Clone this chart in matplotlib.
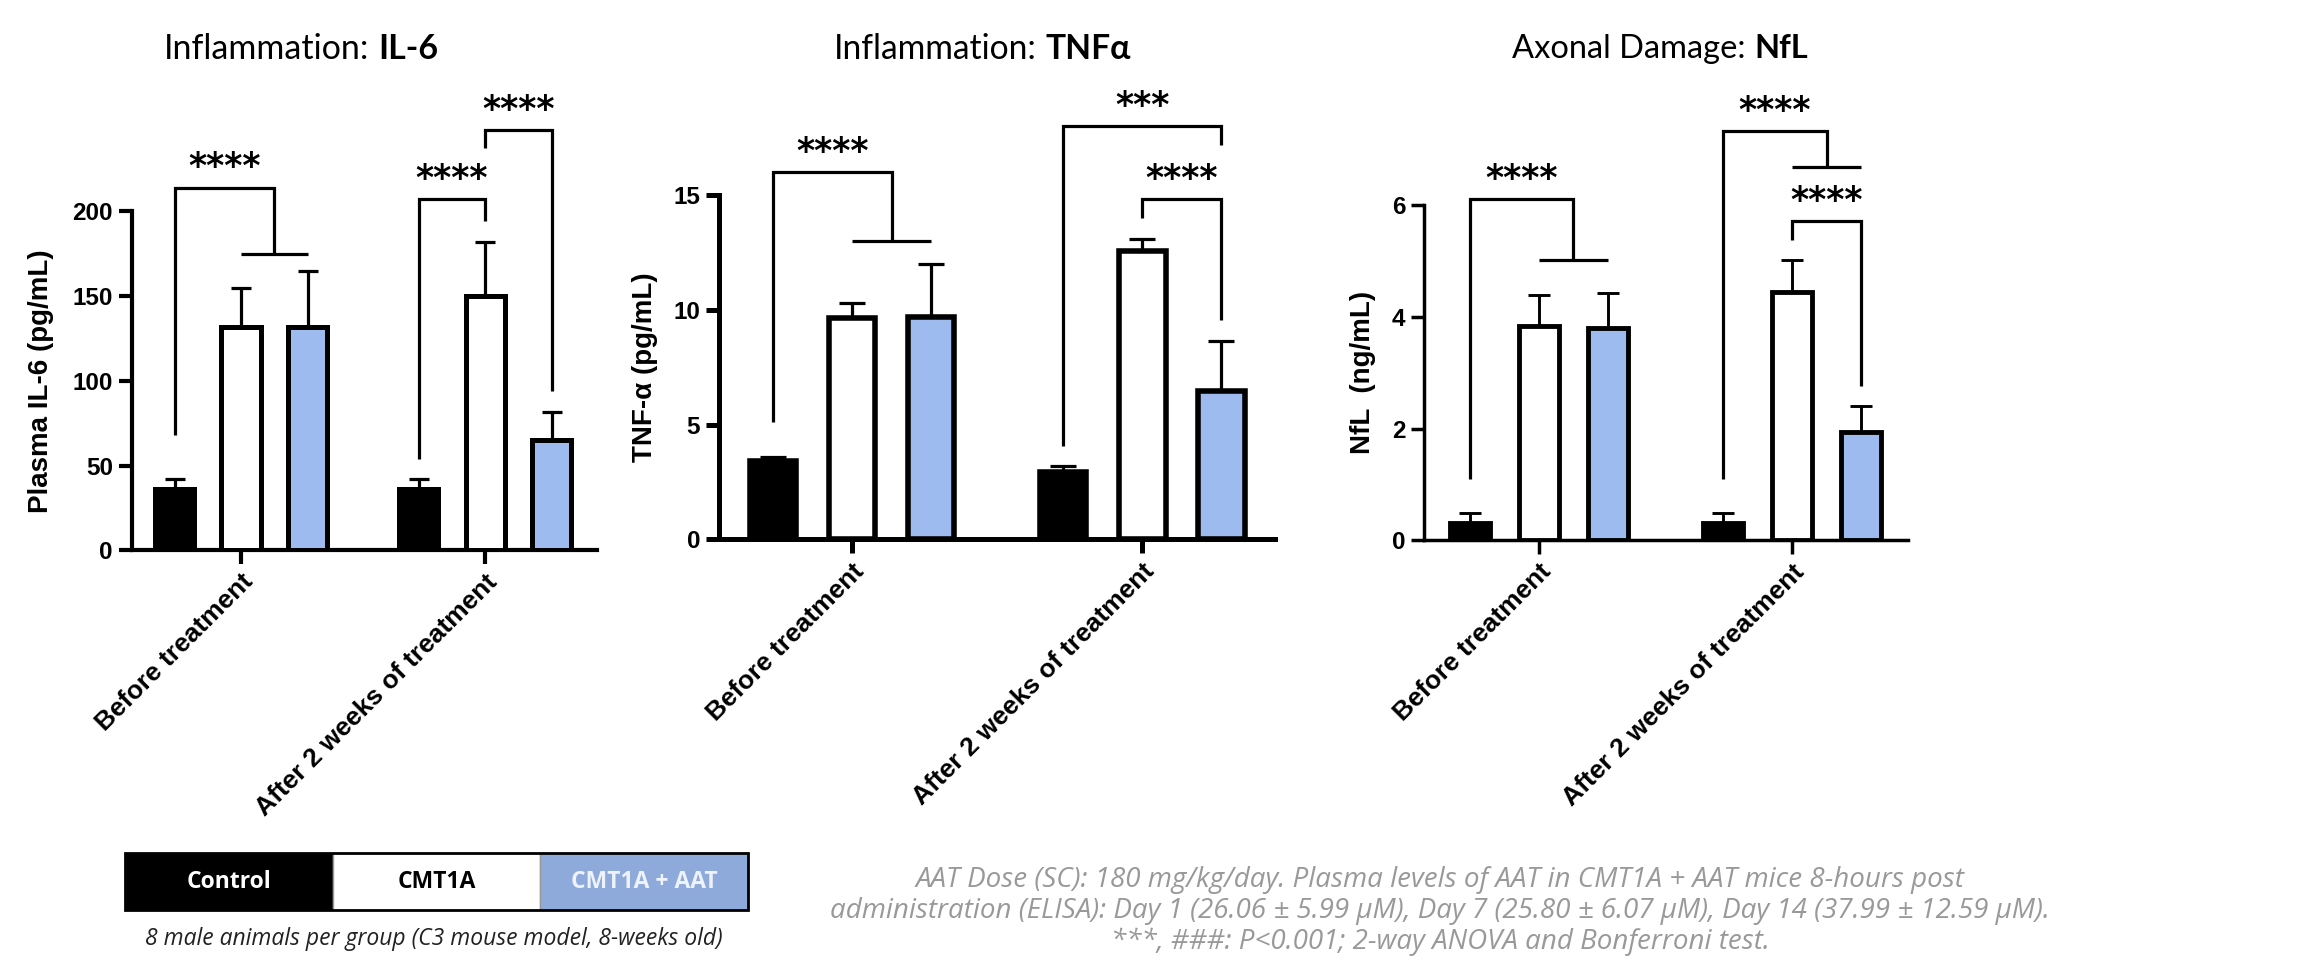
import matplotlib
matplotlib.use("Agg")
import matplotlib.pyplot as plt
from matplotlib.patches import Rectangle

W, H, DPI = 2302, 968, 100

# ---------------- data ----------------
groups = ["Before treatment", "After 2 weeks of treatment"]
series = ["Control", "CMT1A", "CMT1A + AAT"]
series_colors = ["#000000", "#ffffff", "#9dbbee"]

il6_control = [36, 36]
il6_control_sd = [6, 6]
il6_cmt = [132, 150]
il6_cmt_sd = [23, 32]
il6_aat = [132, 65]
il6_aat_sd = [33, 16.5]
il6_yticks = [0, 50, 100, 150, 200]

tnf_control = [3.40, 2.95]
tnf_control_sd = [0.18, 0.24]
tnf_cmt = [9.63, 12.58]
tnf_cmt_sd = [0.68, 0.49]
tnf_aat = [9.69, 6.45]
tnf_aat_sd = [2.31, 2.19]
tnf_yticks = [0, 5, 10, 15]

nfl_control = [0.30, 0.30]
nfl_control_sd = [0.19, 0.19]
nfl_cmt = [3.84, 4.44]
nfl_cmt_sd = [0.55, 0.58]
nfl_aat = [3.80, 1.94]
nfl_aat_sd = [0.63, 0.47]
nfl_yticks = [0, 2, 4, 6]

# brackets: (kind, group, left series, right series, left leg bottom, top, right leg bottom / T level, label)
il6_brackets = [
    ("T", 0, 0, (1, 2), 68, 214, 175, "****"),
    ("pair", 1, 0, 1, 54, 207, 194, "****"),
    ("pair", 1, 1, 2, 237.5, 248, 94, "****"),
]
tnf_brackets = [
    ("T", 0, 0, (1, 2), 5.12, 16.0, 13.0, "****"),
    ("pair", 1, 0, 2, 4.08, 18.0, 17.16, "***"),
    ("pair", 1, 1, 2, 13.98, 14.84, 9.54, "****"),
]
nfl_brackets = [
    ("T", 0, 0, (1, 2), 1.09, 6.11, 5.02, "****"),
    ("T", 1, 0, (1, 2), 1.09, 7.33, 6.68, "****"),
    ("pair", 1, 1, 2, 5.38, 5.72, 2.76, "****"),
]

titles = [("Inflammation: ", "IL-6"), ("Inflammation: ", "TNFα"), ("Axonal Damage: ", "NfL")]
ylabels = ["Plasma IL-6 (pg/mL)", "TNF-α (pg/mL)", "NfL  (ng/mL)"]

legend_caption = "8 male animals per group (C3 mouse model, 8-weeks old)"
notes = [
    "AAT Dose (SC): 180 mg/kg/day. Plasma levels of AAT in CMT1A + AAT mice 8-hours post",
    "administration (ELISA): Day 1 (26.06 ± 5.99 μM), Day 7 (25.80 ± 6.07 μM), Day 14 (37.99 ± 12.59 μM).",
    "***, ###: P<0.001; 2-way ANOVA and Bonferroni test.",
]

# ---------------- layout ----------------
group_offsets = [0.0, 3.67]
series_offsets = [0, 1, 2]
BAR_W = 0.59

panels = [
    dict(means=[il6_control, il6_cmt, il6_aat], sds=[il6_control_sd, il6_cmt_sd, il6_aat_sd],
         yticks=il6_yticks, brackets=il6_brackets, title=titles[0], ylabel=ylabels[0],
         left=131.6, right=597, zero=550.3, ppu=1.695, xl=-0.645, xr=6.35, title_size=24.5,
         title_x=301, ylabel_x=41, spine_lw=3.0, bar_lw=3.6, err_lw=2.3, cap=7.2),
    dict(means=[tnf_control, tnf_cmt, tnf_aat], sds=[tnf_control_sd, tnf_cmt_sd, tnf_aat_sd],
         yticks=tnf_yticks, brackets=tnf_brackets, title=titles[1], ylabel=ylabels[1],
         left=719, right=1275, zero=539.4, ppu=22.96, xl=-0.684, xr=6.35, title_size=24.2,
         title_x=982, ylabel_x=644.5, spine_lw=3.6, bar_lw=4.0, err_lw=2.3, cap=9.5),
    dict(means=[nfl_control, nfl_cmt, nfl_aat], sds=[nfl_control_sd, nfl_cmt_sd, nfl_aat_sd],
         yticks=nfl_yticks, brackets=nfl_brackets, title=titles[2], ylabel=ylabels[2],
         left=1424, right=1908, zero=540.1, ppu=55.8, xl=-0.667, xr=6.35, title_size=23.5,
         title_x=1660, ylabel_x=1363.5, spine_lw=2.5, bar_lw=3.5, err_lw=2.1, cap=8.0),
]

AX_FONT = ["Liberation Sans", "DejaVu Sans"]
TITLE_FONT = ["Lato", "DejaVu Sans"]
NOTE_FONT = ["Open Sans", "DejaVu Sans"]

plt.rcParams["font.family"] = AX_FONT

fig = plt.figure(figsize=(W / DPI, H / DPI), dpi=DPI)
fig.patch.set_facecolor("white")
TOP_PX = 70


def xpos(g, s):
    return group_offsets[g] + series_offsets[s]


for p in panels:
    L, R, Z, ppu = p["left"], p["right"], p["zero"], p["ppu"]
    ax = fig.add_axes([L / W, 1 - Z / H, (R - L) / W, (Z - TOP_PX) / H])
    ax.set_xlim(p["xl"], p["xr"])
    ax.set_ylim(0, (Z - TOP_PX) / ppu)
    ax.patch.set_alpha(0)

    for s in range(3):
        xs = [xpos(g, s) for g in range(2)]
        ax.bar(xs, p["means"][s], width=BAR_W, color=series_colors[s], edgecolor="black",
               linewidth=p["bar_lw"], zorder=3)
        ax.errorbar(xs, p["means"][s], yerr=[[0, 0], p["sds"][s]], fmt="none", ecolor="black",
                    elinewidth=p["err_lw"], capsize=p["cap"], capthick=p["err_lw"], zorder=2)

    for kind, g, sl, sr, lb, top, rb, lab in p["brackets"]:
        x1 = xpos(g, sl)
        kw = dict(color="black", lw=2.3, clip_on=False, solid_capstyle="butt", zorder=4)
        if kind == "T":
            ta, tb = xpos(g, sr[0]), xpos(g, sr[1])
            x2 = (ta + tb) / 2
            ax.plot([x1, x1, x2, x2], [lb, top, top, rb], solid_joinstyle="miter", **kw)
            ax.plot([ta, tb], [rb, rb], **kw)
        else:
            x2 = xpos(g, sr)
            ax.plot([x1, x1, x2, x2], [lb, top, top, rb], solid_joinstyle="miter", **kw)
        ax.annotate(lab, xy=((x1 + x2) / 2, top), xytext=(0, 14.5), textcoords="offset points",
                    ha="center", va="center", fontsize=25, fontweight="bold",
                    family=["DejaVu Sans"], annotation_clip=False)

    for side in ["top", "right"]:
        ax.spines[side].set_visible(False)
    ax.spines["left"].set_bounds(p["yticks"][0], p["yticks"][-1])
    ax.spines["left"].set_linewidth(p["spine_lw"])
    ax.spines["bottom"].set_linewidth(p["spine_lw"])
    ax.spines["left"].set_capstyle("projecting")
    ax.set_yticks(p["yticks"])
    ax.set_yticklabels([str(t) for t in p["yticks"]], fontsize=17.5, fontweight="bold")
    ax.tick_params(axis="y", length=9.5, width=p["spine_lw"], pad=4)
    ax.set_xticks([group_offsets[g] + 1 for g in range(2)])
    ax.set_xticklabels(groups, rotation=45, ha="right", rotation_mode="anchor",
                       fontsize=19, fontweight="bold")
    ax.tick_params(axis="x", length=10, width=p["spine_lw"], pad=4)

    # y label centred on the spine range
    y_mid_px = Z - (p["yticks"][-1] / 2) * ppu
    fig.text(p["ylabel_x"] / W, 1 - y_mid_px / H, p["ylabel"], rotation=90, ha="center",
             va="center", fontsize=20, fontweight="bold")

# titles (regular + bold part)
renderer = fig.canvas.get_renderer()
TITLE_Y = 1 - 49 / H
for p in panels:
    reg, bold = p["title"]
    fs = p["title_size"]
    t1 = fig.text(0, TITLE_Y, reg.rstrip(), fontsize=fs, family=TITLE_FONT, ha="left", va="center")
    t2 = fig.text(0, TITLE_Y, bold, fontsize=fs, family=TITLE_FONT, fontweight="bold",
                  ha="left", va="center")
    sp = fig.text(0, 0, "a a", fontsize=fs, family=TITLE_FONT)
    sp2 = fig.text(0, 0, "aa", fontsize=fs, family=TITLE_FONT)
    space_w = sp.get_window_extent(renderer).width - sp2.get_window_extent(renderer).width
    sp.remove(); sp2.remove()
    w1 = t1.get_window_extent(renderer).width
    w2 = t2.get_window_extent(renderer).width
    x0 = p["title_x"] - (w1 + space_w + w2) / 2
    t1.set_x(x0 / W)
    t2.set_x((x0 + w1 + space_w) / W)

# legend box
LG_L, LG_R, LG_T, LG_B = 125, 748, 853, 910
lax = fig.add_axes([LG_L / W, 1 - LG_B / H, (LG_R - LG_L) / W, (LG_B - LG_T) / H])
lax.set_xlim(0, 3)
lax.set_ylim(0, 1)
lax.axis("off")
legend_fill = ["#000000", "#ffffff", "#8eaadb"]
legend_text = ["#ffffff", "#000000", "#eef2fa"]
for i, name in enumerate(series):
    lax.add_patch(Rectangle((i, 0), 1, 1, facecolor=legend_fill[i], edgecolor="#999999", lw=1))
    lax.text(i + 0.5, 0.5, name, ha="center", va="center", fontsize=16.5, fontweight="bold",
             color=legend_text[i], family=NOTE_FONT)
lax.add_patch(Rectangle((0, 0), 3, 1, facecolor="none", edgecolor="black", lw=2, clip_on=False))

fig.text(434 / W, 1 - 939 / H, legend_caption, ha="center", va="center", fontsize=16.5,
         style="italic", color="#222222", family=NOTE_FONT)

for i, line in enumerate(notes):
    fig.text(1440 / W, 1 - (880 + 31 * i) / H, line, ha="center", va="center", fontsize=20,
             style="italic", color="#999999", family=NOTE_FONT)

fig.savefig("out.png", dpi=DPI, facecolor="white")
